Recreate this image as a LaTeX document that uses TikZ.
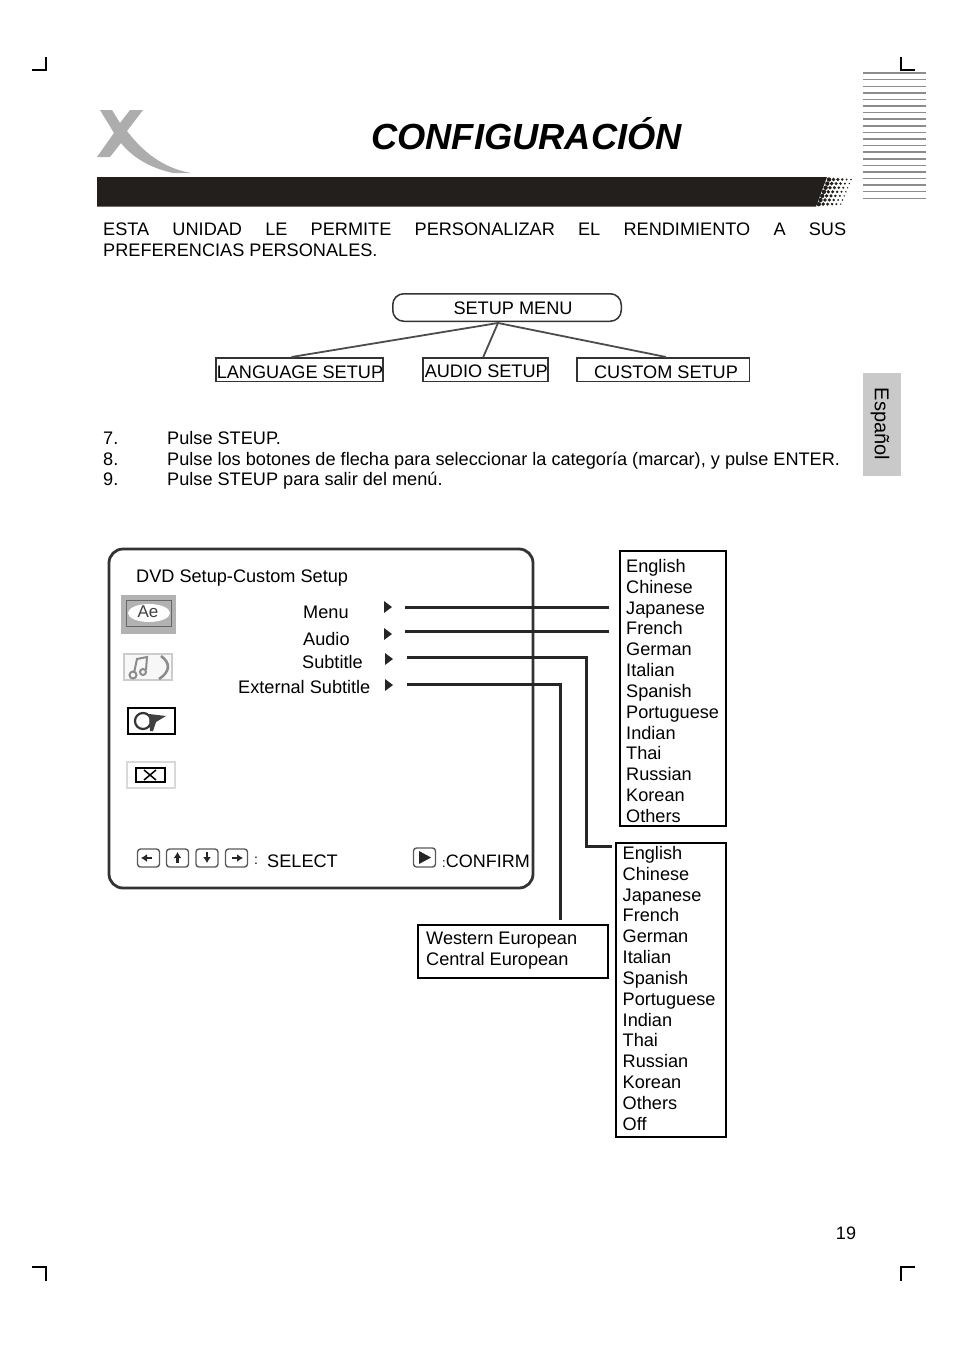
\documentclass[tikz,border=0pt]{standalone}
\usepackage{fontspec}
\setmainfont{Liberation Sans}
\usepackage{xcolor}
\usepackage{tikz}
\usetikzlibrary{arrows.meta}
\definecolor{barblack}{HTML}{231F1C}
\definecolor{logogray}{HTML}{ADADAD}
\definecolor{ruleGray}{HTML}{8C8C8C}
\definecolor{tabgray}{HTML}{C9C9C9}
\tikzset{
  body/.style={font=\fontsize{18.15}{21}\selectfont, inner sep=0pt, anchor=base west},
  setupbox/.style={draw=black!80, line width=1.5pt, font=\fontsize{18.15}{21}\selectfont, inner sep=0pt, anchor=north west, text depth=0pt},
  listbox/.style={draw=black, line width=1.8pt, anchor=north west, inner sep=0pt},
  listtext/.style={anchor=north west, align=left, inner sep=0pt, font=\fontsize{18.15}{20.83}\selectfont},
  linkline/.style={draw=black!85, line width=3pt},
  treeline/.style={draw=black!70, line width=1.8pt},
  keybox/.style={draw=black!65, line width=1.4pt, rounded corners=3pt, minimum width=22pt, minimum height=18pt, inner sep=0pt},
  keyarrow/.style={-{Latex[length=6pt,width=8pt]}, line width=2.4pt, black!85},
  crop/.style={draw=black, line width=1.3pt},
  thickrule/.style={draw=ruleGray, line width=1.7pt},
  thinrule/.style={draw=ruleGray, line width=0.9pt},
}
\begin{document}
\begin{tikzpicture}[x=1pt, y=-1pt]
    \useasboundingbox (0,0) rectangle (954,1352);

    % Crop marks
    \draw[crop] (32,70) -- (46,70) -- (46,57);
    \draw[crop] (901,57) -- (901,70) -- (915,70);
    \draw[crop] (32,1267) -- (46,1267) -- (46,1281);
    \draw[crop] (915,1267) -- (901,1267) -- (901,1281);

    % Stripes on the right
    \foreach \y in {73,93,106,119,126,139,152,159,172,185}
        \draw[thickrule] (863,\y) -- (926,\y);
    \foreach \y in {79,86,99,112,132,145,165,178,191,198}
        \draw[thinrule] (863,\y) -- (926,\y);

    % Logo
    \fill[logogray] (100,110) -- (112,110) -- (120,123) -- (130,110) -- (143,110) -- (127,131)
        .. controls (143,152) and (163,168) .. (191,173) -- (173,173)
        .. controls (150,168) and (132,157) .. (121,143) -- (110,157) -- (97,157) -- (114,133) -- cycle;

    % Title bar
    \node[font=\fontsize{36.3}{40}\selectfont\bfseries\itshape, inner sep=0pt, anchor=base] (title) at (526.5,149) {CONFIGURACIÓN};
    \fill[barblack] (97,177) -- (827,177) -- (816,206.5) -- (97,206.5) -- cycle;
    \foreach \r/\s in {0/0,1/1,2/2,3/3,4/4,5/5,6/6} {
        \foreach \c/\w in {0/2.2,1/1.9,2/1.7,3/1.4,4/1.1,5/0.8} {
            \fill[barblack] ({829+\c*4.4-\s*1.7},{179.5+\r*4.1}) circle (\w pt);
        }
    }

    % Intro
    \node[body] (introa) at (103,235) {\makebox[743pt][s]{ESTA UNIDAD LE PERMITE PERSONALIZAR EL RENDIMIENTO A SUS}};
    \node[body] (introb) at (103,256) {PREFERENCIAS PERSONALES.};

    % Setup tree
    \node[setupbox, text height=14pt, rounded corners=11pt, minimum width=228.5pt, minimum height=27.5pt] (setupmenu) at (392,293) {\hspace*{12pt}SETUP MENU};
    \node[setupbox, text height=17pt, minimum width=165.5pt, minimum height=23.5pt] (language) at (215,357) {\hspace*{1pt}LANGUAGE SETUP};
    \node[setupbox, text height=15pt, minimum width=124.5pt, minimum height=23.5pt] (audio) at (422,357) {\hspace*{2pt}AUDIO SETUP};
    \node[setupbox, text height=17pt, minimum width=172.5pt, minimum height=23.5pt] (custom) at (576,357) {\hspace*{6pt}CUSTOM SETUP};
    \coordinate (treetop) at (498,323);
    \draw[treeline] (treetop) -- ([xshift=-8pt]language.north);
    \draw[treeline] (treetop) -- ([xshift=-2pt]audio.north);
    \draw[treeline] (treetop) -- ([xshift=3pt]custom.north);

    % Side tab
    \fill[tabgray] (863,373) rectangle (901,476);
    \node[font=\fontsize{20}{22}\selectfont, rotate=-90, inner sep=0pt] (tab) at (880,424) {Español};

    % Steps
    \node[body] (stepa) at (103,444) {7.};
    \node[body] (stepb) at (103,465) {8.};
    \node[body] (stepc) at (103,485) {9.};
    \node[body] (texta) at (167,444) {Pulse STEUP.};
    \node[body] (textb) at (167,465) {Pulse los botones de flecha para seleccionar la categoría (marcar), y pulse ENTER.};
    \node[body] (textc) at (167,485) {Pulse STEUP para salir del menú.};

    % Setup screen
    \draw[draw=black!80, line width=2.8pt, rounded corners=14pt] (109,549) rectangle (533,888);
    \node[body] (screentitle) at (136,582) {DVD Setup-Custom Setup};
    \node[body] (menu) at (303,618) {Menu};
    \node[body] (audiorow) at (303,645) {Audio};
    \node[body] (subtitle) at (302,668) {Subtitle};
    \node[body] (external) at (238,693.5) {External Subtitle};
    \foreach \x/\y in {388/607,388/634,389/659,389/685}
        \fill[black!85] (\x-4,\y-6) -- (\x+4,\y) -- (\x-4,\y+6) -- cycle;

    % Icons
    \fill[black!30] (121,595) rectangle (176,634);
    \draw[black!60, line width=1pt] (126,600) rectangle (171,626);
    \fill[white] (149,613) ellipse (21pt and 9pt);
    \node[font=\fontsize{17}{18}\selectfont, text=black!75, inner sep=0pt] (iconae) at (148,612) {Ae};
    \draw[black!20, line width=1.2pt, fill=black!3] (124,654) rectangle (172,680);
    \draw[black!45, line width=2pt] (134,673) -- (137,659) -- (147,657) -- (146,670);
    \draw[black!45, line width=2pt] (133,675) circle (3.5pt) (143,672) circle (3pt);
    \draw[black!45, line width=2.6pt] (161,656) .. controls (171,663) and (170,672) .. (159,679);
    \draw[black, line width=1.3pt] (128,708) rectangle (175,734);
    \draw[black!80, line width=2.2pt] (143,721) circle (8pt);
    \fill[black!75] (149,714) -- (166,716) -- (156,722) -- (153,731) -- (150,731) -- cycle;
    \draw[black!15, line width=1.2pt] (127,762) rectangle (175,788);
    \draw[black, line width=1.3pt] (136,768) rectangle (165,782);
    \draw[black, line width=1.5pt] (144,770) -- (156,780) (156,770) -- (144,780);

    % Keys
    \node[keybox] (keyleft) at (148.5,858) {};
    \node[keybox] (keyup) at (177.5,858) {};
    \node[keybox] (keydown) at (207,858) {};
    \node[keybox] (keyright) at (236.5,858) {};
    \node[keybox, minimum height=19pt] (keyplay) at (424.5,857.5) {};
    \draw[keyarrow] (152,858) -- (141,858);
    \draw[keyarrow] (177.5,863) -- (177.5,852);
    \draw[keyarrow] (207,852) -- (207,863);
    \draw[keyarrow] (232,858) -- (243,858);
    \fill[black!85] (419,851) -- (431,857.5) -- (419,864) -- cycle;
    \node[body, font=\fontsize{14}{16}\selectfont] (colon) at (254,864) {:};
    \node[body] (select) at (267,867) {SELECT};
    \node[body] (confirm) at (442,867) {{\fontsize{13}{14}\selectfont :}\fontsize{18}{21}\selectfont CONFIRM};

    % Language lists
    \node[listbox, minimum width=106.2pt, minimum height=275.2pt] (listmenu) at (619,550) {};
    \node[listtext] (listmenutext) at (626,559) {English\\Chinese\\Japanese\\French\\German\\Italian\\Spanish\\Portuguese\\Indian\\Thai\\Russian\\Korean\\Others};
    \node[listbox, minimum width=110.2pt, minimum height=294.2pt] (listsub) at (615,842) {};
    \node[listtext] (listsubtext) at (622.5,846) {English\\Chinese\\Japanese\\French\\German\\Italian\\Spanish\\Portuguese\\Indian\\Thai\\Russian\\Korean\\Others\\Off};
    \node[listbox, minimum width=190.2pt, minimum height=53.2pt] (listext) at (417,924) {};
    \node[listtext] (listexttext) at (426,931.5) {Western European\\Central European};

    % Links
    \coordinate (menuend) at (405,607);
    \coordinate (audioend) at (405,631);
    \coordinate (subend) at (407,657);
    \coordinate (extend) at (407,684);
    \draw[linkline] (menuend) -- ([xshift=-10pt]menuend -| listmenu.west);
    \draw[linkline] (audioend) -- ([xshift=-10pt]audioend -| listmenu.west);
    \draw[linkline] (subend) -- (586,657) -- (586,846) -- (612,846);
    \draw[linkline] (extend) -- (560,684) -- (560,920);

    % Page number
    \node[font=\fontsize{18}{21}\selectfont, inner sep=0pt] (pagenum) at (846,1233) {19};
\end{tikzpicture}
\end{document}
